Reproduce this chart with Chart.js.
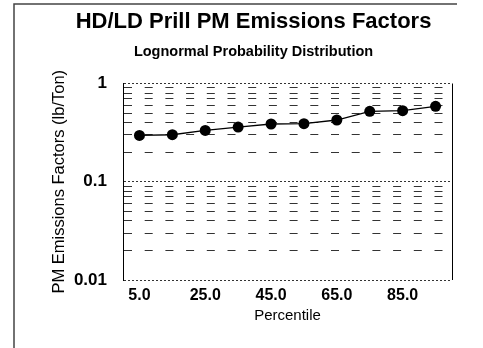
<!DOCTYPE html>
<html><head><meta charset="utf-8">
<script src="https://cdn.jsdelivr.net/npm/chart.js@4/dist/chart.umd.min.js"></script>
<style>html,body{margin:0;padding:0;background:#fff}#wrap{width:483px;height:348px}</style>
</head><body><div id="wrap"><canvas id="c" width="483" height="348"></canvas></div>
<script>
const percentileLabels = ['5.0','15.0','25.0','35.0','45.0','55.0','65.0','75.0','85.0','95.0'];
const emissionFactors = [0.296, 0.301, 0.333, 0.360, 0.387, 0.390, 0.425, 0.521, 0.529, 0.586];
const decades = [0.01, 0.1, 1];
const decadeLabels = ['0.01', '0.1', '1'];
const multipliers = [1,2,3,4,5,6,7,8,9];

const frame = {
  id: 'frame',
  afterDraw(chart) {
    const ctx = chart.ctx, a = chart.chartArea;
    ctx.save();
    ctx.strokeStyle = '#000'; ctx.lineWidth = 1;
    ctx.beginPath(); ctx.moveTo(a.right + 0.5, a.top); ctx.lineTo(a.right + 0.5, a.bottom); ctx.stroke();
    ctx.strokeStyle = '#444'; ctx.lineWidth = 1.5;
    ctx.beginPath(); ctx.moveTo(14, 348); ctx.lineTo(14, 4); ctx.lineTo(457, 4); ctx.stroke();
    ctx.restore();
  }
};

const F = 'Liberation Sans, Arial, sans-serif';

new Chart(document.getElementById('c'), {
  type: 'line',
  data: {
    labels: percentileLabels,
    datasets: [{
      data: emissionFactors,
      borderColor: '#000', backgroundColor: '#000',
      borderWidth: 1.3, pointRadius: 5.5, pointBackgroundColor: '#000', pointBorderWidth: 0,
      tension: 0, yAxisID: 'y'
    }]
  },
  options: {
    responsive: false, animation: false,
    layout: { padding: { left: 24, right: 0, top: 0, bottom: 0 } },
    plugins: {
      legend: { display: false }, tooltip: { enabled: false },
      title: { display: true, text: 'HD/LD Prill PM Emissions Factors', color: '#000',
        font: { family: F, size: 22, weight: 'bold', lineHeight: 1.2 },
        padding: { top: 8.8, bottom: 7.6 } },
      subtitle: { display: true, text: 'Lognormal Probability Distribution', color: '#000',
        font: { family: F, size: 14.5, weight: 'bold', lineHeight: 1.2 },
        padding: { top: 0, bottom: 23.3 } }
    },
    scales: {
      x: {
        type: 'category', offset: true,
        grid: { display: false, drawTicks: false }, border: { display: false },
        ticks: { autoSkip: false, maxRotation: 0, color: '#000', padding: 5.5,
          font: { family: F, size: 16, weight: 'bold' },
          callback: (v, i) => (i % 2 === 0 ? percentileLabels[i] : '') },
        title: { display: true, text: 'Percentile', color: '#000',
          font: { family: F, size: 15 }, padding: { top: 0, bottom: 23 } },
        afterFit: s => { s.height = 68; }
      },
      y: {
        type: 'logarithmic', position: 'left', min: 0.01, max: 1,
        afterBuildTicks: s => {
          const t = [];
          decades.forEach((d, k) => {
            if (k === decades.length - 1) { t.push({ value: d, major: true }); return; }
            multipliers.forEach(m => t.push({ value: +(d * m).toPrecision(3), major: m === 1 }));
          });
          s.ticks = t;
        },
        grid: { color: '#333', lineWidth: 1, drawTicks: false },
        border: { display: true, color: '#000', width: 1,
          dash: c => (c.tick && c.tick.major ? [2, 2] : [8, 12.7]) },
        ticks: { autoSkip: false, color: '#000', padding: 16,
          font: { family: F, size: 17, weight: 'bold' },
          callback: v => { const i = decades.findIndex(d => Math.abs(d - v) < 1e-9); return i >= 0 ? decadeLabels[i] : ''; } },
        title: { display: true, text: 'PM Emissions Factors (lb/Ton)', color: '#000',
          font: { family: F, size: 16.5 }, padding: { top: 26, bottom: 0 } },
        afterFit: s => { s.width = 99; }
      },
      yRight: {
        type: 'logarithmic', position: 'right', min: 0.01, max: 1,
        grid: { display: false, drawTicks: false }, border: { display: false },
        ticks: { display: false },
        afterFit: s => { s.width = 31; }
      }
    }
  },
  plugins: [frame]
});
</script></body></html>
